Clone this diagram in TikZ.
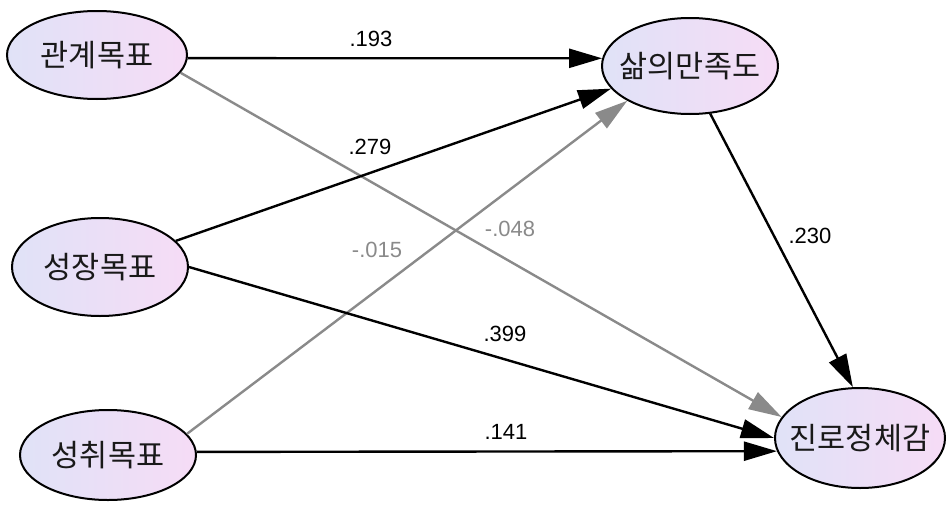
\documentclass[tikz,border=0pt]{standalone}
\usepackage{fontspec}
\setmainfont{Liberation Sans}
\newfontfamily\kr{Noto Sans CJK KR}
\usetikzlibrary{arrows.meta,shapes.geometric}
\definecolor{fillL}{RGB}{224,226,247}
\definecolor{fillR}{RGB}{246,220,246}
\definecolor{nsgray}{RGB}{138,138,138}
\begin{document}
\begin{tikzpicture}[x=1pt,y=-1pt,
  var/.style={ellipse, draw=black, line width=2pt, left color=fillL, right color=fillR,
    inner sep=0pt, text=black!90, font=\kr\fontsize{30.5}{33}\selectfont},
  pathline/.style={line width=2.4pt, -{Triangle[length=33pt,width=19pt]}},
  ns/.style={pathline, draw=nsgray},
  sig/.style={pathline, draw=black},
  coef/.style={font=\fontsize{22}{24}\selectfont, inner sep=0pt}]
\useasboundingbox (0,0) rectangle (947,506);

\node[var, minimum width=180pt, minimum height=88pt] (A) at (97,55) {\makebox[0pt]{관계목표}};
\node[var, minimum width=176pt, minimum height=98pt] (G) at (100,267) {\makebox[0pt]{성장목표}};
\node[var, minimum width=176pt, minimum height=90pt] (C) at (108,455) {\makebox[0pt]{성취목표}};
\node[var, minimum width=176pt, minimum height=96pt] (L) at (690,66) {\makebox[0pt]{삶의만족도}};
\node[var, minimum width=170pt, minimum height=100pt] (I) at (860,438) {\makebox[0pt]{진로정체감}};

\draw[ns] (A.348) -- (I.165);
\draw[ns] (C.15) -- (L.209);
\draw[sig] (A.358) -- (L.175);
\draw[sig] (G.19) -- (L.196);
\draw[sig] (G.0) -- (I.180);
\draw[sig] (C.2.6) -- (I.189);
\draw[sig] (L.293) -- (I.98);

\node[coef] (c1) at (371,39) {.193};
\node[coef] (c2) at (370,147) {.279};
\node[coef, text=nsgray] (c3) at (377,250) {-.015};
\node[coef, text=nsgray] (c4) at (510,229) {-.048};
\node[coef] (c5) at (810,236) {.230};
\node[coef] (c6) at (505,334) {.399};
\node[coef] (c7) at (506,432) {.141};
\end{tikzpicture}
\end{document}
